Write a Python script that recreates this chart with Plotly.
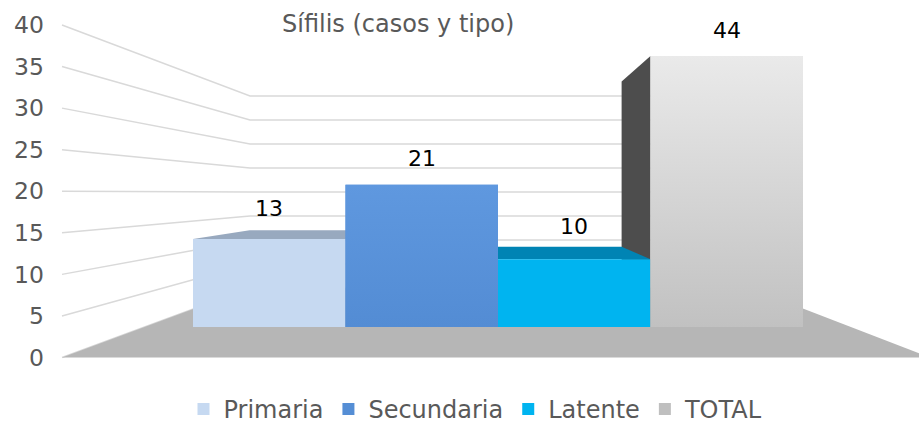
import plotly.graph_objects as go

# ---------------- data ----------------
categories = ["Primaria", "Secundaria", "Latente", "TOTAL"]
values = [13, 21, 10, 44]
y_ticks = [0, 5, 10, 15, 20, 25, 30, 35, 40]
title_text = "Sífilis (casos y tipo)"

# ---------------- styles ----------------
front_colors = ["#C6D9F1", "#558ED5", "#00B4F0", "#BFBFBF"]
top_colors = ["#98A9BF", "#3E6EAA", "#0084B4", "#9C9C9C"]
side_colors = ["#8EA3BF", "#3E6EAA", "#0094C8", "#4D4D4D"]
grad_scales = [None, [[0, "#538CD4"], [1, "#5F98DF"]], None, [[0, "#C1C1C1"], [1, "#EEEEEE"]]]
FONT = "DejaVu Sans"
GREY_TXT = "#595959"
GRID = "#D9D9D9"
FLOOR = "#B6B6B6"

W, H = 919, 425
Y_MAX = 40
# front plane of the bars (pixels)
BAR_X0, BAR_X1 = 193, 803
BAR_PY0, BAR_PY1 = 327, 56
# perspective
VP = (496, 192)
DEPTH = 0.813
# walls / floor frame (pixels)
WALL_FRONT_X, WALL_FRONT_PY0, WALL_FRONT_PY1 = 62, 357.5, 25
WALL_BACK_X, WALL_BACK_PY0, WALL_BACK_PY1 = 250, 288, 96
WALL_BACK_RIGHT_X = 750
FLOOR_FRONT_RIGHT_X = 930

n = len(categories)
bw = (BAR_X1 - BAR_X0) / n


def px_x(c):
    return BAR_X0 + (c + 0.5) * bw


def px_y(v):
    return BAR_PY0 + (min(v, Y_MAX) / Y_MAX) * (BAR_PY1 - BAR_PY0)


def back(p):
    return (VP[0] + DEPTH * (p[0] - VP[0]), VP[1] + DEPTH * (p[1] - VP[1]))


def pp(p):
    return (p[0] / W, 1 - p[1] / H)


def path(points, close=True):
    pts = [pp(p) for p in points]
    s = "M " + " L ".join(f"{x:.5f},{y:.5f}" for x, y in pts)
    return s + (" Z" if close else "")


shapes = []
# gridlines on left and back wall
for t in y_ticks:
    fy = WALL_FRONT_PY0 + t / Y_MAX * (WALL_FRONT_PY1 - WALL_FRONT_PY0)
    by = WALL_BACK_PY0 + t / Y_MAX * (WALL_BACK_PY1 - WALL_BACK_PY0)
    shapes.append(dict(type="path", xref="paper", yref="paper", layer="below",
                       path=path([(WALL_FRONT_X, fy), (WALL_BACK_X, by), (WALL_BACK_RIGHT_X, by)], close=False),
                       line=dict(color=GRID, width=1.5)))
# floor
shapes.append(dict(type="path", xref="paper", yref="paper", layer="below",
                   path=path([(WALL_FRONT_X, WALL_FRONT_PY0), (FLOOR_FRONT_RIGHT_X, WALL_FRONT_PY0),
                              (WALL_BACK_RIGHT_X, WALL_BACK_PY0), (WALL_BACK_X, WALL_BACK_PY0)]),
                   fillcolor=FLOOR, line=dict(width=0)))
# side faces of bars
for i, v in enumerate(values):
    xl, xr = px_x(i - 0.5), px_x(i + 0.5)
    yt, yb = px_y(v), px_y(0)
    if xl > VP[0]:
        f1, f2 = (xl, yt), (xl, yb)
        shapes.append(dict(type="path", xref="paper", yref="paper", layer="below",
                           path=path([f1, back(f1), back(f2), f2]),
                           fillcolor=side_colors[i], line=dict(width=0)))
    if xr < VP[0]:
        f1, f2 = (xr, yt), (xr, yb)
        shapes.append(dict(type="path", xref="paper", yref="paper", layer="below",
                           path=path([f1, back(f1), back(f2), f2]),
                           fillcolor=side_colors[i], line=dict(width=0)))
# top faces of bars
face_heights = []
for i, v in enumerate(values):
    xl, xr = px_x(i - 0.5), px_x(i + 0.5)
    yt = px_y(v)
    if yt > VP[1]:
        f1, f2 = (xl, yt), (xr, yt)
        shapes.append(dict(type="path", xref="paper", yref="paper", layer="below",
                           path=path([f1, f2, back(f2), back(f1)]),
                           fillcolor=top_colors[i], line=dict(width=0)))
        face_heights.append(yt - back(f1)[1])
    else:
        face_heights.append(0)

fig = go.Figure()
for i, (c, v) in enumerate(zip(categories, values)):
    fig.add_trace(go.Bar(x=[i], y=[v], width=1, name=c,
                         marker=dict(color=front_colors[i], line=dict(width=0)),
                         hoverinfo="skip"))
for i, v in enumerate(values):
    if grad_scales[i] is not None:
        fig.add_trace(go.Scatter(x=[i - 0.5, i + 0.5, i + 0.5, i - 0.5, i - 0.5],
                                 y=[0, 0, v, v, 0], mode="lines", fill="toself",
                                 line=dict(width=0),
                                 fillgradient=dict(type="vertical", colorscale=grad_scales[i]),
                                 showlegend=False, hoverinfo="skip"))
# helper trace for the left value axis
fig.add_trace(go.Scatter(x=[0], y=[0], xaxis="x2", yaxis="y2", mode="markers",
                         marker=dict(opacity=0), showlegend=False, hoverinfo="skip"))

annotations = []
for i, v in enumerate(values):
    annotations.append(dict(x=i, y=min(v, Y_MAX), xref="x", yref="y", text=str(v),
                            showarrow=False, yshift=26 + 0.5 * face_heights[i], yanchor="middle",
                            font=dict(family=FONT, size=22, color="#000000")))
annotations.append(dict(x=397.5 / W, y=1 - 24 / H, xref="paper", yref="paper", text=title_text,
                        showarrow=False, xanchor="center", yanchor="middle",
                        font=dict(family=FONT, size=24, color=GREY_TXT)))

fig.update_layout(
    width=W, height=H,
    margin=dict(l=0, r=0, t=0, b=0, autoexpand=False),
    paper_bgcolor="white", plot_bgcolor="rgba(0,0,0,0)",
    barmode="overlay",
    showlegend=True,
    legend=dict(orientation="h", x=476 / W, xanchor="center", y=-0.016, yanchor="bottom",
                font=dict(family=FONT, size=24, color=GREY_TXT), bgcolor="rgba(0,0,0,0)"),
    xaxis=dict(domain=[BAR_X0 / W, BAR_X1 / W], range=[-0.5, n - 0.5], visible=False, fixedrange=True),
    yaxis=dict(domain=[1 - BAR_PY0 / H, 1 - BAR_PY1 / H], range=[0, Y_MAX], visible=False, fixedrange=True),
    xaxis2=dict(domain=[WALL_FRONT_X / W, 1], range=[0, 1], visible=False, fixedrange=True),
    yaxis2=dict(domain=[1 - WALL_FRONT_PY0 / H, 1 - WALL_FRONT_PY1 / H], range=[0, Y_MAX],
                anchor="x2", tickvals=y_ticks, showgrid=False, zeroline=False, showline=False,
                ticks="", ticklabelstandoff=17, fixedrange=True,
                tickfont=dict(family=FONT, size=23.5, color=GREY_TXT)),
    shapes=shapes,
    annotations=annotations,
)

fig.write_html("out.html", config={"displayModeBar": False},
               post_script="document.body.style.margin='0';")
